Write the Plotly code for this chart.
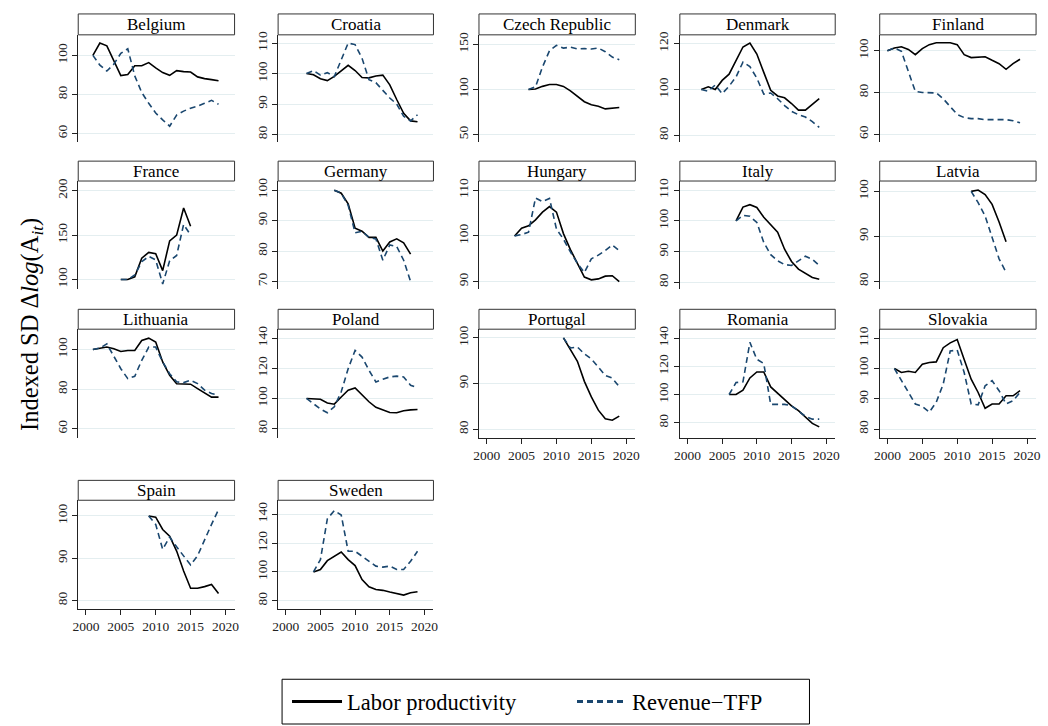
import plotly.graph_objects as go

# ---------------- data ----------------
countries = ["Belgium", "Croatia", "Czech Republic", "Denmark", "Finland",
             "France", "Germany", "Hungary", "Italy", "Latvia",
             "Lithuania", "Poland", "Portugal", "Romania", "Slovakia",
             "Spain", "Sweden"]
start_years = [2001, 2003, 2006, 2002, 2000,
               2005, 2007, 2004, 2007, 2012,
               2001, 2003, 2011, 2006, 2001,
               2009, 2004]

belgium_lp = [100, 106.3, 104.9, 97.5, 89.7, 90.2, 94.7, 94.7, 96.3, 93.6, 91.2, 89.8, 92.2, 91.7, 91.5, 89, 88.1, 87.6, 87]
belgium_tfp = [100, 95, 92, 95.5, 101, 103.4, 89.5, 81, 75.5, 70.5, 67, 63.8, 69.5, 71.5, 73, 74, 75.5, 77, 75]
croatia_lp = [100, 99.6, 98.3, 97.7, 99.1, 101, 102.7, 101, 98.7, 98.6, 99.2, 99.5, 96.3, 91.5, 87, 84.5, 84.2]
croatia_tfp = [100, 101, 99.5, 100.3, 99, 104.5, 110, 109.5, 105, 98, 97, 94.5, 92, 90, 86, 84.5, 86.5]
czech_lp = [100, 100.5, 103.5, 105.5, 105.5, 103.5, 98.5, 92, 86.5, 83, 81.5, 78.5, 79, 80]
czech_tfp = [100, 103, 125, 143, 149, 146, 147, 145, 145.5, 145, 146, 142, 136, 133]
denmark_lp = [100, 101.2, 100, 104, 106.7, 112.5, 118.6, 120.3, 115.5, 107.5, 99.7, 97.2, 96.4, 93.9, 91, 91, 93.5, 96]
denmark_tfp = [100, 99.3, 102, 98.2, 101.5, 105.5, 112, 110, 105, 98, 98.5, 96, 93, 90.5, 89, 88, 86, 83.5]
finland_lp = [100, 101.3, 101.9, 100.6, 98.1, 101, 102.9, 103.8, 103.8, 103.8, 102.9, 98.1, 96.7, 96.8, 97.1, 95.4, 93.8, 91.1, 93.8, 95.9]
finland_tfp = [100, 101.3, 99.7, 90, 80.5, 80, 80, 79.8, 77, 73, 69.5, 68, 67.5, 67.5, 67, 67, 67, 67, 66.5, 65.5]
france_lp = [100, 100, 103, 124, 130.5, 129, 110, 143.5, 150, 180.5, 160]
france_tfp = [100, 100, 105, 120, 126, 122, 95, 121, 127, 162, 150]
germany_lp = [100, 99, 95.5, 87.5, 86.5, 84.5, 84.5, 80, 83, 84, 82.7, 79]
germany_tfp = [100, 99, 95, 86, 86.5, 84.5, 84, 77, 82, 81.5, 77, 70]
hungary_lp = [100, 101.7, 102.2, 103.5, 105.2, 106.4, 105.2, 100.5, 97, 94, 91, 90.4, 90.6, 91.2, 91.3, 90]
hungary_tfp = [100, 100.3, 100.8, 108.3, 107.5, 108.2, 101.5, 99.3, 96.5, 94, 92, 95, 95.8, 96.8, 98, 96.8]
italy_lp = [100, 104.5, 105.3, 104.4, 101.2, 98.8, 96.3, 90.8, 86.8, 84.3, 83, 81.6, 81]
italy_tfp = [100, 101.8, 101.5, 99.5, 93, 89, 87, 85.8, 85.5, 87, 88.5, 87.5, 85.5]
latvia_lp = [100, 100.3, 99.3, 97.1, 93.2, 88.8]
latvia_tfp = [100, 97.5, 94.5, 89.5, 85, 82]
lithuania_lp = [100, 100.7, 101.2, 100.3, 99, 99.5, 99.5, 104.5, 105.7, 103.7, 93.7, 87, 82.7, 82.6, 82.5, 80.3, 78.2, 76, 76]
lithuania_tfp = [100, 100.7, 102.8, 96.2, 90.3, 85.3, 86.5, 94.5, 101.2, 101.2, 93.7, 87.8, 83.7, 83.3, 84.5, 82.8, 79.5, 77.8, 77]
poland_lp = [100, 99.8, 99.5, 97, 96.2, 101, 105.5, 107, 102.6, 97.8, 94.1, 92.3, 90.7, 90.5, 91.8, 92.4, 92.7]
poland_tfp = [100, 96.7, 93, 90.5, 94.5, 104.4, 119.8, 131.9, 127.5, 118.7, 111, 112.8, 114.3, 114.8, 114.3, 108.8, 107]
portugal_lp = [100, 97.6, 94.9, 90.5, 87.1, 84.2, 82.3, 82, 82.9]
portugal_tfp = [100, 97.8, 98, 96.5, 95.4, 93.6, 91.8, 91.2, 89.3]
romania_lp = [100, 100, 103.1, 111.8, 116, 116, 105.4, 100.7, 96, 92, 88.5, 84, 79.5, 77]
romania_tfp = [100, 108.5, 109, 137, 125, 122, 93, 93, 93, 92, 88, 84.5, 82.5, 82.5]
slovakia_lp = [100, 98.7, 99.1, 98.7, 101.4, 102, 102.2, 106.9, 108.5, 109.6, 103, 96.5, 92.1, 86.9, 88.3, 88.3, 91, 91, 92.7]
slovakia_tfp = [100, 96, 92, 88.3, 87.5, 85.6, 88.9, 94.9, 105.8, 106.1, 98.7, 88.3, 88, 94.3, 96, 92.7, 88.3, 89.4, 92.1]
spain_lp = [100, 99.7, 96.8, 95.2, 91.7, 87, 82.9, 82.9, 83.3, 83.8, 81.7]
spain_tfp = [100, 98, 92.1, 95, 92.7, 90.6, 88.4, 90.6, 94.5, 98, 101.5]
sweden_lp = [100, 101.6, 107.8, 110.8, 113.8, 108.5, 104.4, 94.7, 89.7, 87.8, 87.2, 86, 85.1, 83.9, 85.5, 86.2]
sweden_tfp = [100, 108.5, 136.8, 142.5, 139.5, 114.3, 114.3, 110.8, 107.4, 104, 103.3, 104, 101.7, 101.7, 107.4, 114.3]

labor_series = [belgium_lp, croatia_lp, czech_lp, denmark_lp, finland_lp,
                france_lp, germany_lp, hungary_lp, italy_lp, latvia_lp,
                lithuania_lp, poland_lp, portugal_lp, romania_lp, slovakia_lp,
                spain_lp, sweden_lp]
tfp_series = [belgium_tfp, croatia_tfp, czech_tfp, denmark_tfp, finland_tfp,
              france_tfp, germany_tfp, hungary_tfp, italy_tfp, latvia_tfp,
              lithuania_tfp, poland_tfp, portugal_tfp, romania_tfp, slovakia_tfp,
              spain_tfp, sweden_tfp]

y_ticks = [[60, 80, 100], [80, 90, 100, 110], [50, 100, 150], [80, 100, 120], [60, 80, 100],
           [100, 150, 200], [70, 80, 90, 100], [90, 100, 110], [80, 90, 100, 110], [80, 90, 100],
           [60, 80, 100], [80, 100, 120, 140], [80, 90, 100], [80, 100, 120, 140], [80, 90, 100, 110],
           [80, 90, 100], [80, 100, 120, 140]]
y_ranges = [[55.6, 110.5], [77.5, 112.7], [41.5, 160.7], [77, 123.9], [56.2, 107.6],
            [88.8, 210.9], [67.4, 103], [88.3, 112], [77.7, 113], [78.2, 102.3],
            [55.6, 110.2], [74, 146], [78.2, 101.9], [69.4, 146.4], [77.2, 113],
            [78.1, 103.7], [74.5, 149.7]]
x_ticks = [2000, 2005, 2010, 2015, 2020]
x_range = [1998.9, 2021.3]

# ---------------- layout geometry (pixels) ----------------
W, H = 1048, 726
cols_px = [(73, 231), (275, 432), (478, 636), (681, 838), (883, 1041)]
rows_px = [(31, 139), (178, 287), (327, 436), (499, 608)]
title_px = [(10, 31), (158, 178), (307, 327), (479, 499)]
legend_box_px = (279, 812, 679, 724)
bottom_panels = {12, 13, 14, 15, 16}

FONT = "Liberation Serif"
NAVY = "#1a476f"
GRID = "#e4eef0"
AX = "#222222"


def fx(p):
    return p / W


def fy(p):
    return 1 - p / H


fig = go.Figure()
layout = dict(
    width=W, height=H,
    margin=dict(l=0, r=0, t=0, b=0),
    paper_bgcolor="white", plot_bgcolor="white",
    font=dict(family=FONT, color=AX),
    showlegend=True,
)
shapes = []
annotations = []

# legend-only entries (thicker sample lines, as in the reference legend)
fig.add_trace(go.Scatter(x=[None], y=[None], mode="lines",
                         line=dict(color="black", width=3),
                         name="Labor productivity", showlegend=True,
                         xaxis="x", yaxis="y"))
fig.add_trace(go.Scatter(x=[None], y=[None], mode="lines",
                         line=dict(color=NAVY, width=3, dash="6px,4px"),
                         name="Revenue\u2212TFP", showlegend=True,
                         xaxis="x", yaxis="y"))

for i, name in enumerate(countries):
    r, c = divmod(i, 5)
    sfx = "" if i == 0 else str(i + 1)
    years = list(range(start_years[i], start_years[i] + len(labor_series[i])))
    fig.add_trace(go.Scatter(
        x=years, y=labor_series[i], mode="lines",
        line=dict(color="black", width=1.6),
        name="Labor productivity", showlegend=False,
        xaxis="x" + sfx, yaxis="y" + sfx))
    fig.add_trace(go.Scatter(
        x=years, y=tfp_series[i], mode="lines",
        line=dict(color=NAVY, width=1.6, dash="6px,4px"),
        name="Revenue\u2212TFP", showlegend=False,
        xaxis="x" + sfx, yaxis="y" + sfx))

    x0, x1 = cols_px[c]
    y0, y1 = rows_px[r]
    bottom = i in bottom_panels
    layout["xaxis" + sfx] = dict(
        domain=[fx(x0), fx(x1)], anchor="y" + sfx, range=x_range,
        tickvals=x_ticks, showticklabels=bottom, showline=bottom,
        linecolor=AX, linewidth=1, ticks="outside" if bottom else "",
        ticklen=5, tickcolor=AX, tickfont=dict(size=13.5, family=FONT, color=AX),
        showgrid=False, zeroline=False, fixedrange=True)
    layout["yaxis" + sfx] = dict(
        domain=[fy(y1), fy(y0)], anchor="x" + sfx, range=y_ranges[i],
        tickvals=y_ticks[i], tickangle=-90, showline=True, linecolor=AX,
        linewidth=1, ticks="outside", ticklen=5, tickcolor=AX,
        tickfont=dict(size=13.5, family=FONT, color=AX),
        showgrid=True, gridcolor=GRID, gridwidth=1, zeroline=False,
        fixedrange=True)

    t0, t1 = title_px[r]
    shapes.append(dict(type="rect", xref="paper", yref="paper",
                       x0=fx(x0), x1=fx(x1), y0=fy(t1), y1=fy(t0),
                       line=dict(color="#333333", width=1), fillcolor="white"))
    annotations.append(dict(text=name, xref="paper", yref="paper",
                            x=fx((x0 + x1) / 2), y=fy((t0 + t1) / 2),
                            showarrow=False, xanchor="center", yanchor="middle",
                            font=dict(size=17, family=FONT, color="black")))

# legend frame
lx0, lx1, ly0, ly1 = legend_box_px
shapes.append(dict(type="rect", xref="paper", yref="paper",
                   x0=fx(lx0), x1=fx(lx1), y0=fy(ly1), y1=fy(ly0),
                   line=dict(color="black", width=1),
                   fillcolor="rgba(0,0,0,0)", layer="above"))

annotations.append(dict(
    text="Indexed SD \u0394<i>log</i>(A<sub><i>it</i></sub>)",
    xref="paper", yref="paper", x=fx(25), y=fy(322), textangle=-90,
    showarrow=False, xanchor="center", yanchor="middle",
    font=dict(size=24.5, family=FONT, color="black")))

layout["shapes"] = shapes
layout["annotations"] = annotations
layout["legend"] = dict(
    orientation="h", x=fx(284), xanchor="left", y=fy(680), yanchor="top",
    borderwidth=0, bgcolor="rgba(0,0,0,0)",
    font=dict(size=22.5, family=FONT, color="black"),
    entrywidth=220, itemwidth=50)

fig.update_layout(**layout)
fig.write_html(
    "out.html",
    config={"displayModeBar": False, "staticPlot": False},
    post_script="document.body.style.margin='0';document.body.style.padding='0';")
